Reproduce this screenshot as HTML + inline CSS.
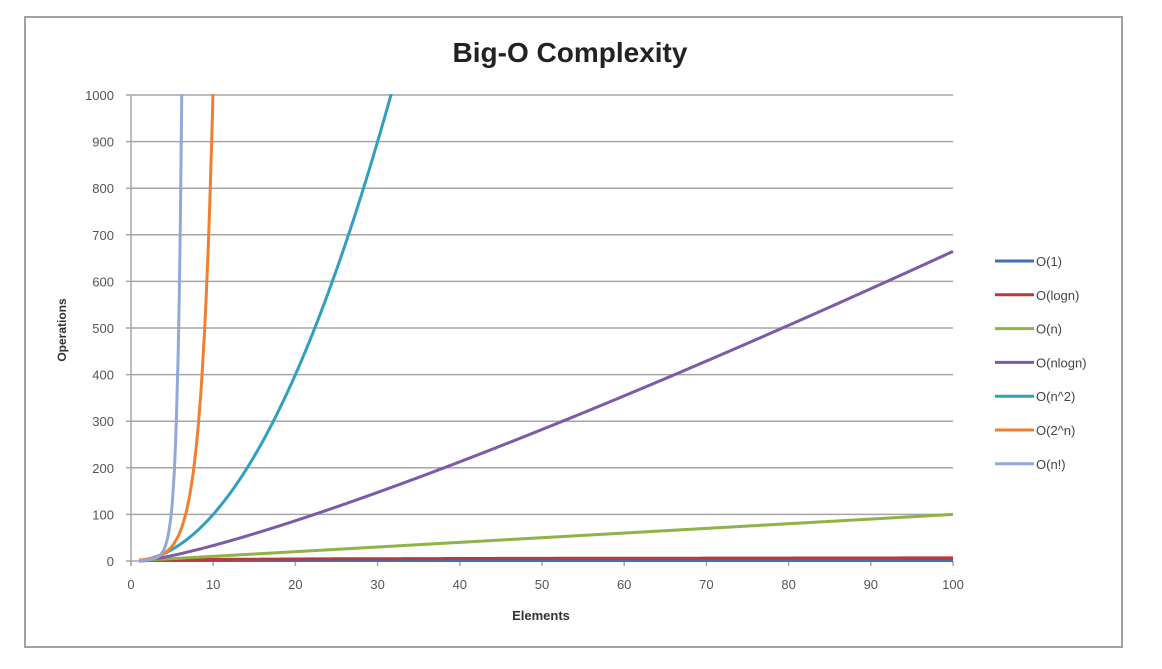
<!DOCTYPE html>
<html><head><meta charset="utf-8"><style>
body{margin:0;background:#fff;width:1162px;height:664px;overflow:hidden;font-family:"Liberation Sans",sans-serif}
</style></head><body>
<svg id="s" width="1162" height="664" xmlns="http://www.w3.org/2000/svg" font-family="Liberation Sans, sans-serif">
<rect x="25" y="17" width="1097" height="630" fill="#fff" stroke="#a0a0a0" stroke-width="2"/>
<text x="570" y="62" text-anchor="middle" font-size="28" font-weight="bold" fill="#222">Big-O Complexity</text>
<defs><clipPath id="c"><rect x="120" y="94" width="840" height="475"/></clipPath></defs>
<g id="grid"></g>
<g id="series" clip-path="url(#c)" fill="none" stroke-width="3" stroke-linejoin="round"></g>
<text x="541" y="620" text-anchor="middle" font-size="13" font-weight="bold" fill="#333">Elements</text>
<text transform="translate(66,330) rotate(-90)" text-anchor="middle" font-size="12" font-weight="bold" fill="#333">Operations</text>
<g id="legend" font-size="13" fill="#444"></g>
</svg>
<script>
var ns="http://www.w3.org/2000/svg",s=document.getElementById('s');
function el(p,t,a,txt){var e=document.createElementNS(ns,t);for(var k in a)e.setAttribute(k,a[k]);if(txt!=null)e.textContent=txt;p.appendChild(e);return e;}
var g=document.getElementById('grid');
function X(n){return 131+8.22*n;}function Y(v){return 561-0.466*v;}
for(var v=0;v<=1000;v+=100){var y=Y(v);el(g,'line',{x1:126,x2:953,y1:y,y2:y,stroke:'#a6a6a6','stroke-width':1.5});
el(g,'text',{x:114,y:y+5,'text-anchor':'end','font-size':13,fill:'#555'},v);}
el(g,'line',{x1:131,x2:131,y1:95,y2:566,stroke:'#a6a6a6','stroke-width':1.5});
for(var n=0;n<=100;n+=10){var x=X(n);el(g,'line',{x1:x,x2:x,y1:561,y2:566,stroke:'#a6a6a6','stroke-width':1.5});
el(g,'text',{x:x,y:589,'text-anchor':'middle','font-size':13,fill:'#555'},n);}
var fact=[1,1,2,6,24,120,720,5040,40320];
var ser=[
['O(1)','#3f6fb5',function(n){return 1;},100],
['O(logn)','#b83a3a',function(n){return Math.log2(n);},100],
['O(n)','#8fb347',function(n){return n;},100],
['O(nlogn)','#7d5ba6',function(n){return n*Math.log2(n);},100],
['O(n^2)','#31a0bd',function(n){return n*n;},33],
['O(2^n)','#f07f30',function(n){return Math.pow(2,n);},11],
['O(n!)','#91a9d8',function(n){var i=Math.floor(n),f=n-i;return fact[i]*Math.pow(i+1,f);},7.5]];
var sg=document.getElementById('series'),lg=document.getElementById('legend');
ser.forEach(function(d,i){var pts=[];for(var n=1;n<=d[3]+1e-9;n+=0.05){pts.push(X(n).toFixed(1)+','+Y(d[2](n)).toFixed(1));}
el(sg,'polyline',{points:pts.join(' '),stroke:d[1]});
var y=261+33.8*i;el(lg,'line',{x1:995,x2:1034,y1:y,y2:y,stroke:d[1],'stroke-width':3});
el(lg,'text',{x:1036,y:y+5},d[0]);});
</script>
</body></html>
